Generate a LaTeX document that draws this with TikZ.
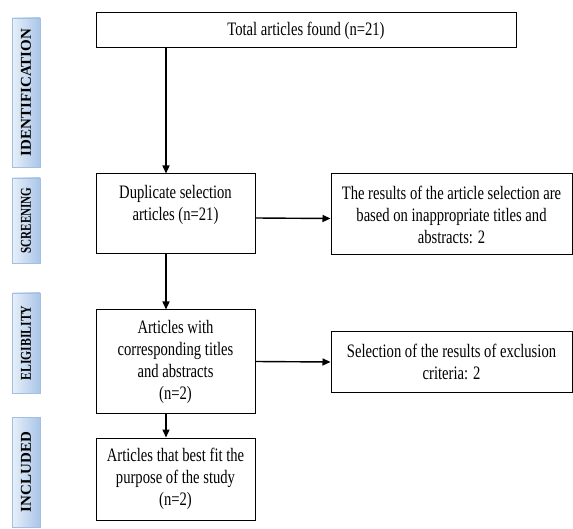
\documentclass[tikz,border=0pt]{standalone}
\usepackage{fontspec}
\usepackage{graphicx}
\setmainfont{Liberation Serif}[FakeStretch=0.77]
\newfontfamily\stagefont{Liberation Serif}
\usetikzlibrary{arrows.meta}
\definecolor{stageleft}{HTML}{E8F0FA}
\definecolor{stageright}{HTML}{A9C5E8}
\definecolor{stageedge}{HTML}{A4BFE2}
\tikzset{
	box/.style={draw, line width=1pt, align=center, inner sep=2pt,
		font=\fontsize{19}{22}\selectfont},
	stage/.style={left color=stageleft, right color=stageright,
		draw=stageedge, line width=0.6pt, minimum width=28pt, inner sep=0pt,
		font=\stagefont\bfseries\fontsize{15}{16}\selectfont},
	arr/.style={-{Triangle[length=8pt,width=7pt]}, line width=1.4pt}
}
\begin{document}
\begin{tikzpicture}[x=1pt,y=-1pt]
				\useasboundingbox (0,0) rectangle (573,529);
				% stages on the left
				\node[stage, minimum height=149pt] (ident) at (26,92.5) {\rotatebox{90}{IDENTIFICATION}};
				\node[stage, minimum height=85pt] (screen) at (26,220.5) {\rotatebox{90}{\scalebox{0.74}[1]{SCREENING}}};
				\node[stage, minimum height=100pt] (elig) at (26,343) {\rotatebox{90}{\scalebox{0.78}[1]{ELIGIBILITY}}};
				\node[stage, minimum height=110pt] (incl) at (26,472) {\rotatebox{90}{INCLUDED}};
				% flow boxes
				\node[box, minimum width=420pt, minimum height=35pt] (total) at (306,30.5) {Total articles found (n=21)};
				\node[box, minimum width=159pt, minimum height=80pt] (dup) at (175.5,214) {Duplicate selection\\articles (n=21)\\\mbox{}};
				\node[box, minimum width=241pt, minimum height=81pt] (excla) at (451.5,214.5) {The results of the article selection are\\based on inappropriate titles and\\abstracts: 2};
				\node[box, minimum width=159pt, minimum height=103pt] (corr) at (175.5,361.5) {Articles with\\corresponding titles\\and abstracts\\(n=2)};
				\node[box, minimum width=241pt, minimum height=60pt] (exclb) at (451.5,362) {Selection of the results of exclusion\\criteria: 2};
				\node[box, minimum width=159pt, minimum height=82pt] (best) at (175.5,479) {Articles that best fit the\\purpose of the study\\(n=2)};
				\coordinate (spine) at (166,0);
				\draw[arr] (total.south -| spine) -- (dup.north -| spine);
				\draw[arr] (dup.south -| spine) -- (corr.north -| spine);
				\draw[arr] (corr.south -| spine) -- (best.north -| spine);
				\draw[arr] ([yshift=-4pt]dup.east) -- ([yshift=-4pt]excla.west);
				\draw[arr] (corr.east) -- (exclb.west);
			\end{tikzpicture}
\end{document}
